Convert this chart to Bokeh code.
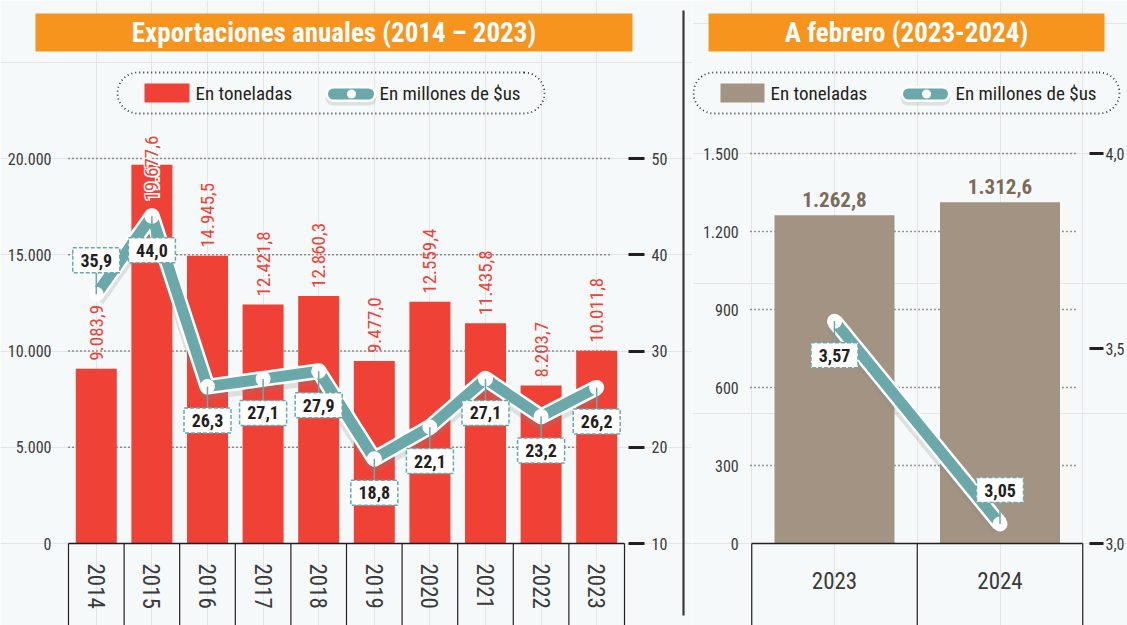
import numpy as np
from bokeh.plotting import figure
from bokeh.models import (FactorRange, Range1d, LinearAxis, CategoricalAxis, FixedTicker)
from bokeh.layouts import row
from bokeh.core.properties import value
from bokeh.embed import file_html
from bokeh.resources import INLINE

# ---------------- data ----------------
years = ["2014", "2015", "2016", "2017", "2018", "2019", "2020", "2021", "2022", "2023"]
tons = [9083.9, 19677.6, 14945.5, 12421.8, 12860.3, 9477.0, 12559.4, 11435.8, 8203.7, 10011.8]
usd = [35.9, 44.0, 26.3, 27.1, 27.9, 18.8, 22.1, 27.1, 23.2, 26.2]
tons_ticks = [0, 5000, 10000, 15000, 20000]
tons_tick_labels = ["0", "5.000", "10.000", "15.000", "20.000"]
usd_ticks = [10, 20, 30, 40, 50]
usd_tick_labels = ["10", "20", "30", "40", "50"]

feb_years = ["2023", "2024"]
feb_tons = [1262.8, 1312.6]
feb_usd = [3.57, 3.05]
feb_tons_ticks = [0, 300, 600, 900, 1200, 1500]
feb_tons_tick_labels = ["0", "300", "600", "900", "1.200", "1.500"]
feb_usd_ticks = [3.0, 3.5, 4.0]
feb_usd_tick_labels = ["3,0", "3,5", "4,0"]

titles = ["Exportaciones anuales (2014 – 2023)", "A febrero (2023-2024)"]
legend_labels = ["En toneladas", "En millones de $us"]

# ---------------- style ----------------
BG = "#f6f9f9"
ORANGE = "#f7941d"
RED = "#ef4136"
BROWN = "#a39382"
BROWN_TXT = "#7b6b5a"
TEAL = "#6aa8a9"
INK = "#231f20"
AX = "#3a3a3a"
FONT = "'Roboto Condensed', 'DejaVu Sans Condensed', Roboto, sans-serif"

OFF = 0          # page offset of the figures
H = 625
BASE = 543       # page y of the zero line
W_L, W_R = 692, 435


def es(v, d):
    s = f"{v:,.{d}f}"
    return s.replace(",", "#").replace(".", ",").replace("#", ".")


def capsule(x0, x1, y0, y1):
    r = (y1 - y0) / 2
    cy = (y0 + y1) / 2
    a = np.linspace(-np.pi / 2, np.pi / 2, 40)
    rt = [(x1 - r + r * np.cos(t), cy + r * np.sin(t)) for t in a]
    lf = [(x0 + r - r * np.cos(t), cy - r * np.sin(t)) for t in a]
    pts = rt + lf + [rt[0]]
    return [q[0] for q in pts], [q[1] for q in pts]


def base_fig(width, x_range, y_range):
    p = figure(width=width, height=H, x_range=x_range, y_range=y_range,
               output_backend="svg", toolbar_location=None,
               x_axis_location=None, y_axis_location=None,
               min_border=0, min_border_left=0, min_border_right=0,
               min_border_top=0, min_border_bottom=0,
               background_fill_color=BG, border_fill_color=BG,
               outline_line_color=None)
    return p


def axis_style(ax, size="16px"):
    ax.axis_line_color = None
    ax.major_tick_line_color = None
    ax.minor_tick_line_color = None
    ax.major_label_text_font = FONT
    ax.major_label_text_font_size = size
    ax.major_label_text_color = AX


def chrome(p, fx, fy, title, title_x0, title_x1, cap_x0, cap_x1, sq_x0, sq_x1, t1_x, sym_x0, sym_x1, dot_x, t2_x, sq_color):
    # title bar
    p.quad(left=fx(title_x0), right=fx(title_x1), top=fy(13), bottom=fy(51),
           fill_color=ORANGE, line_color=None)
    p.text(x=[fx((title_x0 + title_x1) / 2)], y=[fy(32)], text=[title],
           text_align="center", text_baseline="middle", text_color="white",
           text_font=value(FONT), text_font_style="bold", text_font_size="27px")
    # legend capsule
    cx, cy = capsule(cap_x0, cap_x1, 72, 113)
    p.line([fx(v) for v in cx], [fy(v) for v in cy], line_color="#333333",
           line_width=1.8, line_dash="1 3")
    p.quad(left=fx(sq_x0), right=fx(sq_x1), top=fy(83), bottom=fy(102),
           fill_color=sq_color, line_color=None)
    p.text(x=[fx(t1_x)], y=[fy(93)], text=[legend_labels[0]], text_align="left",
           text_baseline="middle", text_color=INK, text_font=value(FONT),
           text_font_size="19px")
    p.segment(x0=fx(sym_x0 + 6), x1=fx(sym_x1 - 6), y0=fy(97), y1=fy(97),
              line_color="#8c9999", line_alpha=0.25, line_width=16, line_cap="round")
    p.segment(x0=fx(sym_x0 + 6), x1=fx(sym_x1 - 6), y0=fy(93.5), y1=fy(93.5),
              line_color="white", line_width=16, line_cap="round")
    p.segment(x0=fx(sym_x0 + 6), x1=fx(sym_x1 - 6), y0=fy(93.5), y1=fy(93.5),
              line_color=TEAL, line_width=11, line_cap="round")
    p.scatter(x=[fx(dot_x)], y=[fy(93.5)], size=9, fill_color="white", line_color=None)
    p.text(x=[fx(t2_x)], y=[fy(93)], text=[legend_labels[1]], text_align="left",
           text_baseline="middle", text_color=INK, text_font=value(FONT),
           text_font_size="19px")


def draw_line(p, xs, ys, k_u, dirs, decimals):
    sh = [v - 5 / k_u for v in ys]
    p.line(xs, sh, y_range_name="usd", line_color="#7a8a8a", line_alpha=0.22,
           line_width=17, line_join="round")
    p.line(xs, ys, y_range_name="usd", line_color="white", line_width=16, line_join="round")
    p.line(xs, ys, y_range_name="usd", line_color=TEAL, line_width=11, line_join="round")
    p.scatter(xs, ys, y_range_name="usd", size=15, fill_color="white", line_color=None)
    lab_y = [v + d * 34 / k_u for v, d in zip(ys, dirs)]
    p.segment(x0=xs, y0=ys, x1=xs, y1=lab_y, y_range_name="usd",
              line_color=TEAL, line_width=1.5)
    p.rect(x=xs, y=lab_y, width=47, height=25, width_units="screen",
           height_units="screen", y_range_name="usd", fill_color="white",
           line_color=TEAL, line_width=1.5, line_dash="4 2")
    p.text(x=xs, y=lab_y, text=[es(v, decimals) for v in ys], y_range_name="usd",
           text_align="center", text_baseline="middle", text_color=INK,
           text_font=value(FONT), text_font_style="bold", text_font_size="18px")


# ================= left panel =================
BAND_L = 55.6
CAT0_L = 68
K_T = (BASE - 158) / tons_ticks[-1]
K_U = (BASE - 158) / (usd_ticks[-1] - usd_ticks[0])


def lx(px):
    return (px - CAT0_L) / BAND_L


def ly(py):
    return (BASE - py) / K_T


xr_L = FactorRange(*years, range_padding=(CAT0_L - OFF) / BAND_L,
                   range_padding_units="absolute", factor_padding=0)
pL = base_fig(W_L, xr_L, Range1d(ly(OFF + H), ly(OFF)))
pL.extra_y_ranges = {"usd": Range1d(usd_ticks[0] + (BASE - OFF - H) / K_U,
                                    usd_ticks[0] + (BASE - OFF) / K_U)}

# grid lines
pL.segment(x0=lx(68), x1=lx(610), y0=tons_ticks[1:], y1=tons_ticks[1:],
           line_color="#333333", line_width=1.6, line_dash="1 3")
# bars
pL.vbar(x=years, top=tons, width=41 / BAND_L, fill_color=RED, line_color=None)
# category box
edges_L = list(range(len(years) + 1))
pL.segment(x0=0, x1=len(years), y0=0, y1=0, line_color=INK, line_width=1.5)
pL.segment(x0=edges_L, x1=edges_L, y0=0, y1=ly(640), line_color=INK, line_width=1.2)
# bar value labels (vertical)
inside = [t > 0.9 * tons_ticks[-1] for t in tons]
out_x = [y for y, f in zip(years, inside) if not f]
out_t = [t for t, f in zip(tons, inside) if not f]
in_x = [y for y, f in zip(years, inside) if f]
in_t = [t for t, f in zip(tons, inside) if f]
pL.text(x=out_x, y=out_t, text=[es(t, 1) for t in out_t], angle=np.pi / 2,
        text_align="left", text_baseline="middle", y_offset=-8, text_color=RED,
        text_font=value(FONT), text_font_size="19px")
# labels that do not fit above their bar: red text with a white halo
halo = [(dx, dy) for dx in (-1.5, 0, 1.5) for dy in (-1.5, 0, 1.5) if (dx, dy) != (0, 0)]
for dx, dy in halo:
    pL.text(x=in_x, y=in_t, text=[es(t, 1) for t in in_t], angle=np.pi / 2,
            text_align="left", text_baseline="middle", x_offset=dx, y_offset=36 + dy,
            text_color="white", text_font=value(FONT), text_font_size="19px")
pL.text(x=in_x, y=in_t, text=[es(t, 1) for t in in_t], angle=np.pi / 2,
        text_align="left", text_baseline="middle", y_offset=36, text_color=RED,
        text_font=value(FONT), text_font_size="19px")

dirs_L = [1] + [-1] * (len(years) - 1)
draw_line(pL, years, usd, K_U, dirs_L, 1)

ax = LinearAxis(ticker=FixedTicker(ticks=tons_ticks),
                major_label_overrides=dict(zip(tons_ticks, tons_tick_labels)),
                fixed_location=0, major_label_standoff=11)
axis_style(ax)
pL.add_layout(ax, "left")

ax = LinearAxis(y_range_name="usd", ticker=FixedTicker(ticks=usd_ticks),
                major_label_overrides=dict(zip(usd_ticks, usd_tick_labels)),
                fixed_location=lx(628), major_label_standoff=7)
axis_style(ax)
ax.major_tick_line_color = INK
ax.major_tick_line_width = 3
ax.major_tick_in = 0
ax.major_tick_out = 16
pL.add_layout(ax, "right")

ax = CategoricalAxis(fixed_location=0, major_label_orientation="vertical",
                     major_label_standoff=14)
axis_style(ax, "23px")
pL.add_layout(ax, "below")

chrome(pL, lx, ly, titles[0], 35, 632, 117, 544, 144, 189, 195, 327, 374, 351, 379, RED)
# separator between the panels
pL.segment(x0=lx(683), x1=lx(683), y0=ly(10), y1=ly(615), line_color="#3a3a3a", line_width=2.2)

# ================= right panel =================
BAND_R = 165.5
C0_R = 834
K2 = (BASE - 153) / feb_tons_ticks[-1]
K2U = (BASE - 153) / (feb_usd_ticks[-1] - feb_usd_ticks[0])


def rx(px):
    return (px - C0_R) / BAND_R


def ry(py):
    return (BASE - py) / K2


xi = list(range(len(feb_years)))
pR = base_fig(W_R, Range1d(rx(OFF + W_L), rx(OFF + W_L + W_R)), Range1d(ry(OFF + H), ry(OFF)))
pR.extra_y_ranges = {"usd": Range1d(feb_usd_ticks[0] + (BASE - OFF - H) / K2U,
                                    feb_usd_ticks[0] + (BASE - OFF) / K2U)}

pR.segment(x0=rx(750), x1=rx(1078), y0=feb_tons_ticks[1:], y1=feb_tons_ticks[1:],
           line_color="#333333", line_width=1.6, line_dash="1 3")
pR.vbar(x=xi, top=feb_tons, width=120 / BAND_R, fill_color=BROWN, line_color=None)
edges_R = [i - 0.5 for i in range(len(feb_years) + 1)]
pR.segment(x0=edges_R[0], x1=edges_R[-1], y0=0, y1=0, line_color=INK, line_width=1.5)
pR.segment(x0=edges_R, x1=edges_R, y0=0, y1=ry(640), line_color=INK, line_width=1.2)
pR.text(x=xi, y=feb_tons, text=[es(t, 1) for t in feb_tons], text_align="center",
        text_baseline="middle", y_offset=-16, text_color=BROWN_TXT,
        text_font=value(FONT), text_font_style="bold", text_font_size="21px")

dirs_R = [-1, 1]
draw_line(pR, xi, feb_usd, K2U, dirs_R, 2)

ax = LinearAxis(ticker=FixedTicker(ticks=feb_tons_ticks),
                major_label_overrides=dict(zip(feb_tons_ticks, feb_tons_tick_labels)),
                fixed_location=edges_R[0], major_label_standoff=7)
axis_style(ax)
pR.add_layout(ax, "left")

ax = LinearAxis(y_range_name="usd", ticker=FixedTicker(ticks=feb_usd_ticks),
                major_label_overrides=dict(zip(feb_usd_ticks, feb_usd_tick_labels)),
                fixed_location=rx(1089), major_label_standoff=2)
axis_style(ax)
ax.major_tick_line_color = INK
ax.major_tick_line_width = 3
ax.major_tick_in = 0
ax.major_tick_out = 14
pR.add_layout(ax, "right")

ax = LinearAxis(ticker=FixedTicker(ticks=xi),
                major_label_overrides=dict(zip(xi, feb_years)),
                fixed_location=0, major_label_standoff=22)
axis_style(ax, "23px")
pR.add_layout(ax, "below")

chrome(pR, rx, ry, titles[1], 708, 1104, 693, 1119, 720, 764, 770, 902, 948, 926, 955, BROWN)

layout = row(pL, pR)
open("out.html", "w").write(file_html(layout, INLINE))
